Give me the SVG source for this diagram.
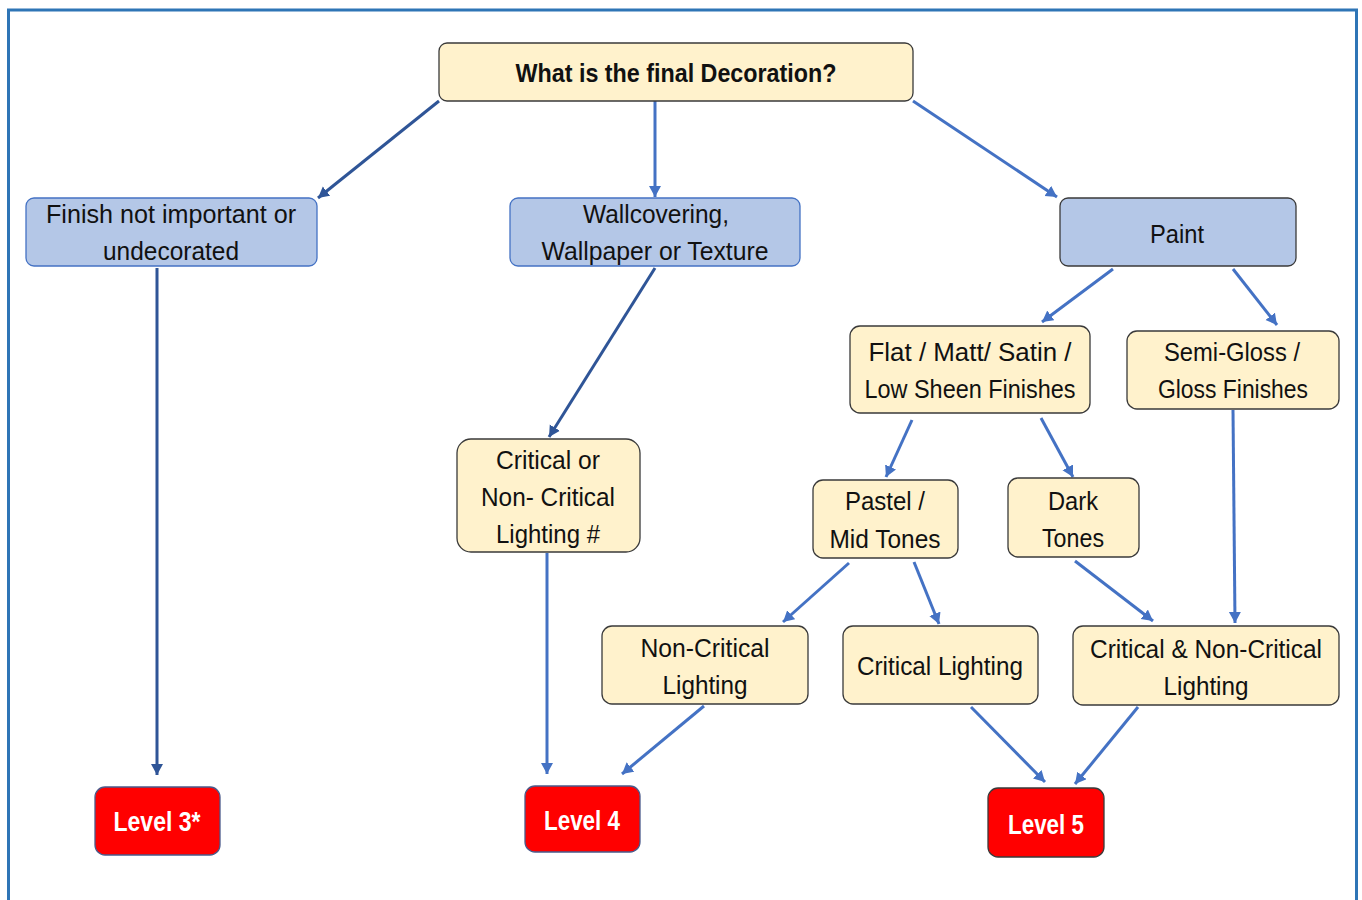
<svg xmlns="http://www.w3.org/2000/svg" width="1362" height="900" viewBox="0 0 1362 900">
<defs>
<style>
.y{fill:#fff2cc;stroke:#3a3a3a;stroke-width:1.3}
.b{fill:#b4c7e7;stroke:#4472c4;stroke-width:1.3}
.bd{fill:#b4c7e7;stroke:#3a3a3a;stroke-width:1.3}
.r{fill:#ff0000;stroke:#4a5a8a;stroke-width:1.3}
.rd{fill:#ff0000;stroke:#3a3a3a;stroke-width:1.3}
text{font-family:"Liberation Sans",Arial,sans-serif;font-size:26px;fill:#111;text-anchor:middle}
.t{font-weight:bold}
.w{fill:#fff;font-weight:bold;font-size:27px}
.c{fill:none;stroke:#4472c4;stroke-width:3}
.cd{fill:none;stroke:#2f5597;stroke-width:3}
</style>
<marker id="a" markerUnits="userSpaceOnUse" markerWidth="14" markerHeight="14" refX="11" refY="6" orient="auto"><path d="M0,0 L11,6 L0,12 z" fill="#4472c4"/></marker>
<marker id="ad" markerUnits="userSpaceOnUse" markerWidth="14" markerHeight="14" refX="11" refY="6" orient="auto"><path d="M0,0 L11,6 L0,12 z" fill="#2f5597"/></marker>
</defs>
<rect x="0" y="0" width="1362" height="900" fill="#fff"/>
<path d="M8.5,905 V10 H1356.5 V905" fill="none" stroke="#2e75b6" stroke-width="3"/>
<g id="connectors">
<line class="cd" x1="439" y1="101" x2="318" y2="198" marker-end="url(#ad)"/>
<line class="c" x1="655" y1="101" x2="655" y2="197" marker-end="url(#a)"/>
<line class="c" x1="913" y1="101" x2="1057" y2="197" marker-end="url(#a)"/>
<line class="c" x1="1113" y1="269" x2="1042" y2="322" marker-end="url(#a)"/>
<line class="c" x1="1233" y1="269" x2="1277" y2="325" marker-end="url(#a)"/>
<line class="cd" x1="655" y1="268" x2="549" y2="437" marker-end="url(#ad)"/>
<line class="cd" x1="157" y1="268" x2="157" y2="775" marker-end="url(#ad)"/>
<line class="c" x1="912" y1="420" x2="886" y2="477" marker-end="url(#a)"/>
<line class="c" x1="1041" y1="418" x2="1073" y2="477" marker-end="url(#a)"/>
<line class="c" x1="1233" y1="410" x2="1235" y2="623" marker-end="url(#a)"/>
<line class="c" x1="547" y1="553" x2="547" y2="774" marker-end="url(#a)"/>
<line class="c" x1="849" y1="563" x2="783" y2="622" marker-end="url(#a)"/>
<line class="c" x1="914" y1="562" x2="939" y2="624" marker-end="url(#a)"/>
<line class="c" x1="1075" y1="561" x2="1153" y2="621" marker-end="url(#a)"/>
<line class="c" x1="704" y1="706" x2="622" y2="774" marker-end="url(#a)"/>
<line class="c" x1="971" y1="707" x2="1045" y2="782" marker-end="url(#a)"/>
<line class="c" x1="1138" y1="707" x2="1075" y2="784" marker-end="url(#a)"/>
</g>
<g id="n-top"><rect class="y" x="439" y="43" width="474" height="58" rx="8"/><text class="t" x="676" y="82" textLength="321" lengthAdjust="spacingAndGlyphs">What is the final Decoration?</text></g>
<g id="n-finish"><rect class="b" x="26" y="198" width="291" height="68" rx="8"/><text x="171" y="223" textLength="250" lengthAdjust="spacingAndGlyphs">Finish not important or</text><text x="171" y="260" textLength="136" lengthAdjust="spacingAndGlyphs">undecorated</text></g>
<g id="n-wall"><rect class="b" x="510" y="198" width="290" height="68" rx="8"/><text x="656" y="223" textLength="146" lengthAdjust="spacingAndGlyphs">Wallcovering,</text><text x="655" y="260" textLength="227" lengthAdjust="spacingAndGlyphs">Wallpaper or Texture</text></g>
<g id="n-paint"><rect class="bd" x="1060" y="198" width="236" height="68" rx="8"/><text x="1177" y="243" textLength="54" lengthAdjust="spacingAndGlyphs">Paint</text></g>
<g id="n-flat"><rect class="y" x="850" y="326" width="240" height="87" rx="10"/><text x="970" y="361" textLength="203" lengthAdjust="spacingAndGlyphs">Flat / Matt/ Satin /</text><text x="970" y="398" textLength="211" lengthAdjust="spacingAndGlyphs">Low Sheen Finishes</text></g>
<g id="n-gloss"><rect class="y" x="1127" y="331" width="212" height="78" rx="10"/><text x="1232" y="361" textLength="136" lengthAdjust="spacingAndGlyphs">Semi-Gloss /</text><text x="1233" y="398" textLength="150" lengthAdjust="spacingAndGlyphs">Gloss Finishes</text></g>
<g id="n-crit"><rect class="y" x="457" y="439" width="183" height="113" rx="14"/><text x="548" y="469" textLength="104" lengthAdjust="spacingAndGlyphs">Critical or</text><text x="548" y="506" textLength="134" lengthAdjust="spacingAndGlyphs">Non- Critical</text><text x="548" y="543" textLength="104" lengthAdjust="spacingAndGlyphs">Lighting #</text></g>
<g id="n-pastel"><rect class="y" x="813" y="480" width="145" height="78" rx="10"/><text x="885" y="510" textLength="80" lengthAdjust="spacingAndGlyphs">Pastel /</text><text x="885" y="548" textLength="111" lengthAdjust="spacingAndGlyphs">Mid Tones</text></g>
<g id="n-dark"><rect class="y" x="1008" y="478" width="131" height="79" rx="10"/><text x="1073" y="510" textLength="50" lengthAdjust="spacingAndGlyphs">Dark</text><text x="1073" y="547" textLength="62" lengthAdjust="spacingAndGlyphs">Tones</text></g>
<g id="n-noncrit"><rect class="y" x="602" y="626" width="206" height="78" rx="10"/><text x="705" y="657" textLength="129" lengthAdjust="spacingAndGlyphs">Non-Critical</text><text x="705" y="694" textLength="85" lengthAdjust="spacingAndGlyphs">Lighting</text></g>
<g id="n-critlight"><rect class="y" x="843" y="626" width="195" height="78" rx="10"/><text x="940" y="675" textLength="166" lengthAdjust="spacingAndGlyphs">Critical Lighting</text></g>
<g id="n-both"><rect class="y" x="1073" y="626" width="266" height="79" rx="10"/><text x="1206" y="658" textLength="232" lengthAdjust="spacingAndGlyphs">Critical &amp; Non-Critical</text><text x="1206" y="695" textLength="85" lengthAdjust="spacingAndGlyphs">Lighting</text></g>
<g id="n-l3"><rect class="r" x="95" y="787" width="125" height="68" rx="10"/><text class="w" x="157" y="831" textLength="87" lengthAdjust="spacingAndGlyphs">Level 3*</text></g>
<g id="n-l4"><rect class="r" x="525" y="786" width="115" height="66" rx="10"/><text class="w" x="582" y="830" textLength="76" lengthAdjust="spacingAndGlyphs">Level 4</text></g>
<g id="n-l5"><rect class="rd" x="988" y="788" width="116" height="69" rx="10"/><text class="w" x="1046" y="834" textLength="76" lengthAdjust="spacingAndGlyphs">Level 5</text></g>
</svg>
